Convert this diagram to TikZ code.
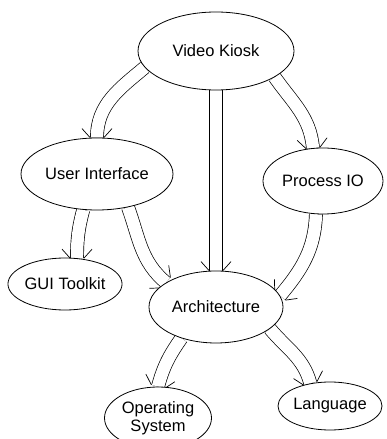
\documentclass[tikz,border=0pt]{standalone}
\usepackage{fontspec}
\setmainfont{Liberation Sans}
\usetikzlibrary{shapes.geometric,decorations.markings,backgrounds}

\tikzset{
	topic/.style={ellipse,draw,fill=white,line width=0.8pt,inner sep=0pt,align=center,
		font=\fontsize{16.5}{18}\selectfont},
	link/.style={draw,double,double distance=12.4pt,line width=0.7pt,
		postaction={decorate,decoration={markings,mark=at position 1 with {
			\draw[line width=0.7pt] (0pt,6.9pt) -- (-9pt,15pt) (0pt,-6.9pt) -- (-9pt,-15pt);}}}}
}

\begin{document}
\begin{tikzpicture}[x=1pt,y=1pt]
		\useasboundingbox (0,0) rectangle (386,439);
		\node[topic,minimum width=156pt,minimum height=78pt] (vk) at (216,388) {Video Kiosk};
		\node[topic,minimum width=152pt,minimum height=72pt] (ui) at (97,265) {User Interface};
		\node[topic,minimum width=120pt,minimum height=66pt] (pio) at (323,258) {Process IO};
		\node[topic,minimum width=114pt,minimum height=52pt] (gui) at (65,155) {GUI Toolkit};
		\node[topic,minimum width=134pt,minimum height=72pt] (arch) at (216,132) {Architecture};
		\node[topic,minimum width=107pt,minimum height=62pt] (os) at (158,21) {Operating\\System};
		\node[topic,minimum width=104pt,minimum height=48pt] (lang) at (330,33) {Language};
		\begin{scope}[on background layer,every edge/.style=link]
		\path
		(vk.193) edge [out=220,in=90] (ui.north)
		(vk) edge (arch)
		(vk.336) edge [out=305,in=95] (pio.107)
		(ui.249) edge [out=255,in=90] (gui.65)
		(ui.313) edge [out=290,in=140] (arch.154)
		(pio.258) edge [out=268,in=50] (arch.10)
		(arch.222) edge [out=235,in=75] (os.north)
		(arch.338) edge [out=310,in=105] (lang.131);
		\end{scope}
\end{tikzpicture}
\end{document}
